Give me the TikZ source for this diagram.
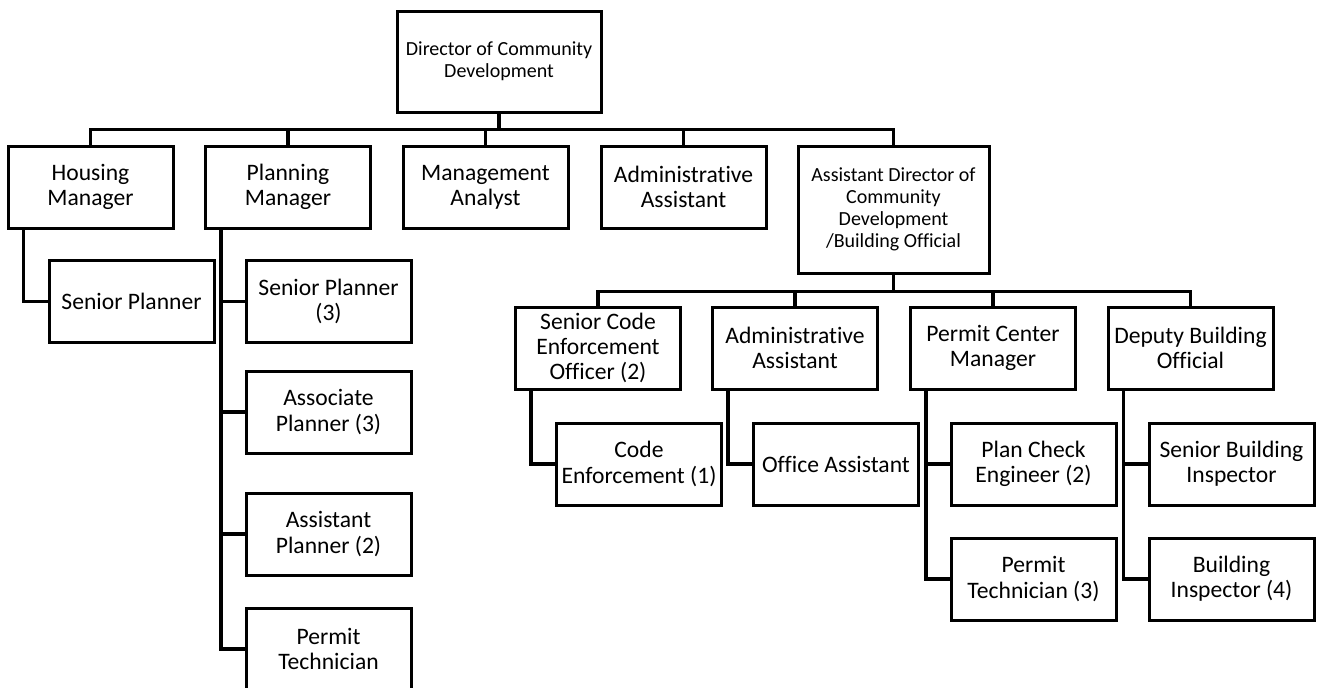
\documentclass[tikz,border=0pt]{standalone}
\usepackage{fontspec}
\setmainfont{Carlito}[Ligatures=NoCommon]
\usetikzlibrary{calc}
\tikzstyle{post}  = [draw, line width=1.5pt, align=center, inner sep=0pt, minimum width=82.5pt, minimum height=41pt, font=\fontsize{11.8}{12.6}\selectfont]
\tikzstyle{small} = [font=\fontsize{10}{10.9}\selectfont]
\tikzstyle{link}  = [line width=1.6pt]

\begin{document}
\begin{tikzpicture}[x=0.5pt,y=-0.5pt]
    \useasboundingbox (0,0) rectangle (1318,687); % page as the reference
    \node[post,small,minimum width=102pt,minimum height=50.5pt] (dir) at (499,61.5) {Director of Community\\Development};
    \node[post] (housing)  at (90.5,187)  {Housing\\Manager};
    \node[post] (planning) at (288,187)   {Planning\\Manager};
    \node[post] (analyst)  at (485.5,187) {Management\\Analyst};
    \node[post] (admin)    at (683.5,187) {Administrative\\Assistant};
    \node[post,small,minimum width=95.5pt,minimum height=63.5pt] (asstdir) at (893.5,209.5) {Assistant Director of\\Community\\Development\\/Building Official};
    % left branches
    \node[post] (hsp)   at (131.5,301.5) {Senior Planner};
    \node[post] (psp)   at (328.5,301.5) {Senior Planner\\(3)};
    \node[post] (assoc) at (328.5,412)   {Associate\\Planner (3)};
    \node[post] (asst)  at (328.5,534)   {Assistant\\Planner (2)};
    \node[post] (ptech) at (328.5,649)   {Permit\\Technician};
    % building side
    \node[post] (sceo)  at (598,348)    {Senior Code\\Enforcement\\Officer (2)};
    \node[post] (adm)   at (795,348)    {Administrative\\Assistant};
    \node[post] (pcm)   at (993,348)    {Permit Center\\Manager};
    \node[post] (dbo)   at (1190.5,348) {Deputy Building\\Official};
    \node[post] (ce)    at (639,464)    {Code\\Enforcement (1)};
    \node[post] (oa)    at (836,464)    {Office Assistant};
    \node[post] (pce)   at (1033.5,464) {Plan Check\\Engineer (2)};
    \node[post] (sbi)   at (1231.5,464) {Senior Building\\Inspector};
    \node[post] (pt)    at (1033.5,579) {Permit\\Technician (3)};
    \node[post] (bi)    at (1231.5,579) {Building\\Inspector (4)};
    \foreach \c in {housing,planning,analyst,admin,asstdir} {
      \draw[link] (dir.south) -- ++(0,16) -| (\c.north);
    }
    \foreach \c in {sceo,adm,pcm,dbo} {
      \draw[link] (asstdir.south) -- ++(0,17) -| (\c.north);
    }
    \foreach \p/\c in {housing/hsp,planning/psp,planning/assoc,planning/asst,planning/ptech,sceo/ce,adm/oa,pcm/pce,pcm/pt,dbo/sbi,dbo/bi} {
      \draw[link] ($(\p.south west)+(17,0)$) |- (\c.west);
    }
\end{tikzpicture}
\end{document}
